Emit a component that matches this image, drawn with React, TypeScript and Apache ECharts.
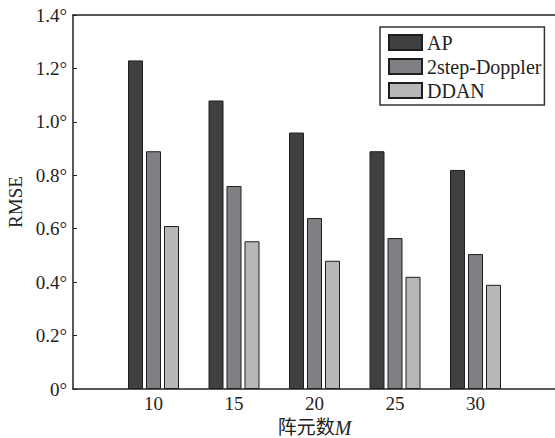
import React, { useEffect, useRef } from "react";
import * as echarts from "echarts";

const arrayCounts = [10, 15, 20, 25, 30];
const apValues = [1.23, 1.08, 0.96, 0.89, 0.82];
const twoStepValues = [0.89, 0.76, 0.64, 0.565, 0.505];
const ddanValues = [0.61, 0.553, 0.48, 0.42, 0.39];
const seriesNames = ["AP", "2step-Doppler", "DDAN"];
const seriesColors = ["#3f4042", "#7f8083", "#b6b7b9"];
const yTicks = [0, 0.2, 0.4, 0.6, 0.8, 1.0, 1.2, 1.4];

const FONT = "'Liberation Serif', 'Times New Roman', 'Noto Sans CJK SC', serif";

export default function App() {
  const ref = useRef<HTMLDivElement>(null);
  useEffect(() => {
    document.body.style.margin = "0";
    if (!ref.current) return;
    const chart = echarts.init(ref.current, undefined, { renderer: "svg" });
    const allValues = [apValues, twoStepValues, ddanValues];
    const axisLine = { show: true, lineStyle: { color: "#222", width: 1.5 } };
    chart.setOption({
      animation: false,
      textStyle: { fontFamily: FONT },
      grid: { left: 73, top: 15, right: -1, bottom: 49, outerBoundsMode: "none", containLabel: false },
      legend: {
        orient: "vertical",
        left: 380,
        top: 27,
        padding: [5, 3, 4, 8],
        itemGap: 3,
        itemWidth: 33,
        itemHeight: 15,
        icon: "rect",
        borderColor: "#333",
        borderWidth: 1.5,
        data: seriesNames,
        textStyle: { fontFamily: FONT, fontSize: 20, color: "#222", lineHeight: 21 },
      },
      xAxis: [
        {
          type: "value",
          min: 5,
          max: 35,
          interval: 5,
          position: "bottom",
          splitLine: { show: false },
          axisTick: { show: false },
          axisLine,
          axisLabel: {
            fontFamily: FONT,
            fontSize: 19,
            color: "#222",
            margin: 5,
            formatter: (v: number) => (arrayCounts.includes(v) ? String(v) : ""),
          },
          name: "阵元数{i|M}",
          nameLocation: "middle",
          nameGap: 28,
          nameTextStyle: {
            fontFamily: FONT,
            fontSize: 19,
            lineHeight: 20,
            color: "#222",
            rich: { i: { fontFamily: FONT, fontStyle: "italic", fontSize: 20, lineHeight: 20, color: "#222" } },
          },
        },
        {
          type: "value",
          min: 5,
          max: 35,
          position: "top",
          splitLine: { show: false },
          axisTick: { show: false },
          axisLabel: { show: false },
          axisLine,
        },
      ],
      yAxis: {
        type: "value",
        min: yTicks[0],
        max: yTicks[yTicks.length - 1],
        interval: 0.2,
        splitLine: { show: false },
        axisLine,
        axisTick: { show: true, inside: true, length: 4, lineStyle: { color: "#222", width: 1 } },
        axisLabel: {
          fontFamily: FONT,
          fontSize: 19,
          color: "#222",
          margin: 6,
          formatter: (v: number) => (v === 0 ? "0°" : v.toFixed(1) + "°"),
        },
        name: "RMSE",
        nameLocation: "middle",
        nameGap: 46,
        nameTextStyle: { fontFamily: FONT, fontSize: 19, color: "#222" },
      },
      series: seriesNames.map((name, i) => ({
        name,
        type: "bar",
        xAxisIndex: 0,
        barWidth: 15,
        barGap: "20%",
        itemStyle: { color: seriesColors[i], borderColor: "#1e1e1e", borderWidth: 1 },
        data: arrayCounts.map((c, j) => [c, allValues[i][j]]),
      })),
    });
    return () => chart.dispose();
  }, []);
  return <div ref={ref} style={{ width: 555, height: 438 }} />;
}
